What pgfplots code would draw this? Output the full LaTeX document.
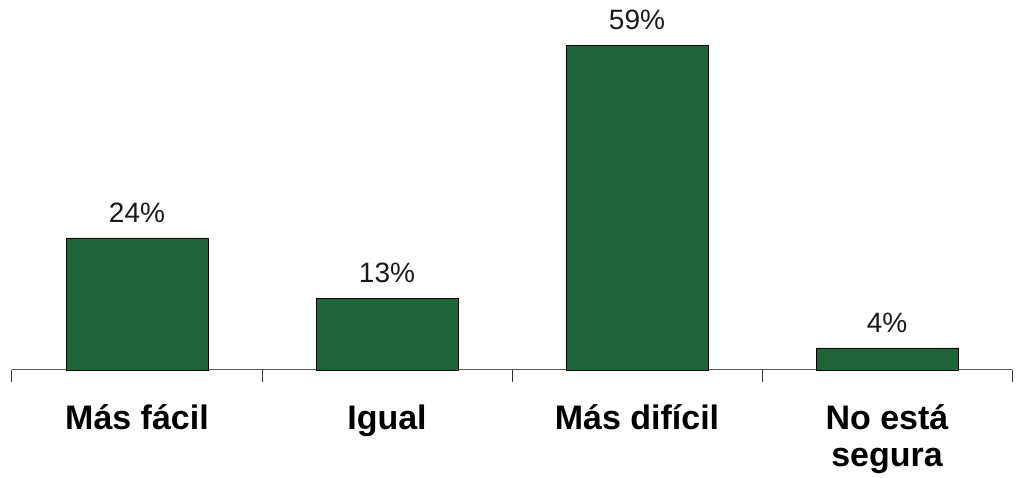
\documentclass[border=0pt]{standalone}
\usepackage{pgfplots}
\pgfplotsset{compat=1.18}
\usepackage{fontspec}
\setmainfont{Liberation Sans}
\definecolor{barg}{RGB}{29,101,56}
\newcommand{\ls}{\rule{0pt}{26pt}}
\begin{document}
\begin{tikzpicture}
\path[use as bounding box] (-12pt,-108pt) rectangle (1009pt,370pt);
\begin{axis}[
 at={(0pt,0pt)}, anchor=south west,
 scale only axis, width=1000pt, height=370pt,
 xmin=0, xmax=4, ymin=0, ymax=67.27,
 axis x line*=bottom, axis y line=none,
 axis line style={draw=black!65, line width=1pt},
 xtick={0.5,1.5,2.5,3.5},
 xticklabels={\ls Más fácil, \ls Igual, \ls Más difícil, {\ls No está\\segura}},
 minor xtick={0,1,2,3,4},
 major tick length=0pt, minor tick length=12pt,
 tick align=outside,
 minor tick style={draw=black!80, line width=1pt},
 xticklabel style={font=\fontsize{34}{37}\selectfont\bfseries, align=center, inner sep=0pt, anchor=north, yshift=-33pt},
 /pgf/number format/assume math mode=true,
 ybar, bar width=142pt,
 nodes near coords={\pgfmathprintnumber{\pgfplotspointmeta}\%},
 every node near coord/.append style={font=\fontsize{28}{32}\selectfont, inner sep=0pt, anchor=south, yshift=15pt, text=black!90},
 clip=false,
]
\addplot[fill=barg, draw=black, line width=0.8pt] coordinates {(0.5,24) (1.5,13) (2.5,59) (3.5,4)};
\end{axis}
\end{tikzpicture}
\end{document}
